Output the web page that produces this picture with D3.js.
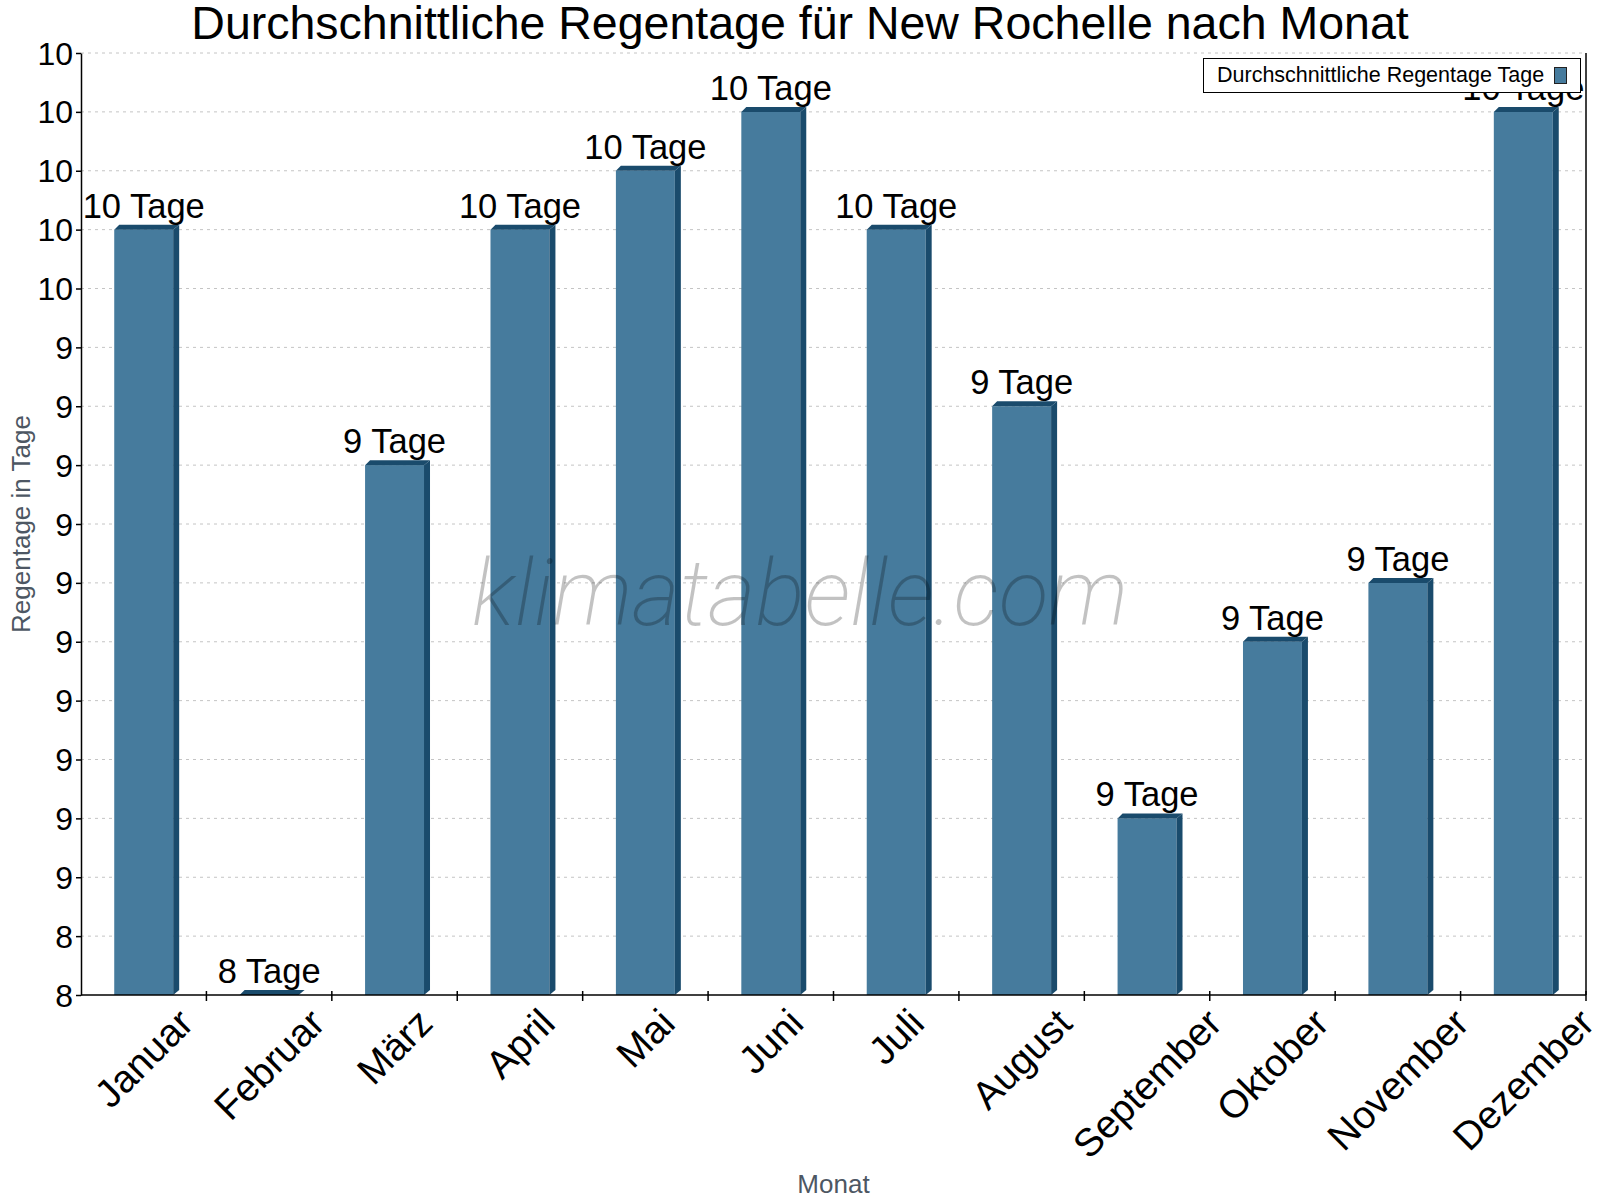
<!DOCTYPE html>
<html lang="de">
<head>
<meta charset="utf-8">
<script src="https://cdn.jsdelivr.net/npm/d3@7"></script>
<style>
  html, body { margin: 0; background: #fff; }
  svg { display: block; font-family: "Liberation Sans", Arial, sans-serif; }
</style>
</head>
<body>
<div id="chart"></div>
<script>
// Werte
var months = ["Januar", "Februar", "März", "April", "Mai", "Juni",
              "Juli", "August", "September", "Oktober", "November", "Dezember"];
var rainDays = [9.65, 8.35, 9.25, 9.65, 9.75, 9.85,
                9.65, 9.35, 8.65, 8.95, 9.05, 9.85];
var yTicks = [8.35, 8.45, 8.55, 8.65, 8.75, 8.85, 8.95, 9.05, 9.15,
              9.25, 9.35, 9.45, 9.55, 9.65, 9.75, 9.85, 9.95];

var title = "Durchschnittliche Regentage für New Rochelle nach Monat",
    seriesName = "Durchschnittliche Regentage Tage",
    yTitle = "Regentage in Tage",
    xTitle = "Monat",
    unit = "Tage",
    watermark = "klimatabelle.com";

var width = 1600,
    height = 1200,
    margin = {top: 53, right: 14, bottom: 205, left: 81};

var front = "#467b9d",
    dark = "#1a4b6c",
    dx = 6, dy = 5;

var fmt = d3.format(".0f");

var svg = d3.select("#chart").append("svg")
    .attr("width", width)
    .attr("height", height);

var x = d3.scaleBand()
    .domain(months)
    .range([margin.left, width - margin.right]);

var y = d3.scaleLinear()
    .domain([yTicks[0], yTicks[yTicks.length - 1]])
    .range([height - margin.bottom, margin.top]);

var bottom = y.range()[0],
    barW = x.bandwidth() * 0.47;

// Gitterlinien
svg.append("g")
    .selectAll("line")
    .data(yTicks.slice(1))
    .join("line")
    .attr("x1", margin.left)
    .attr("x2", width - margin.right)
    .attr("y1", d => y(d))
    .attr("y2", d => y(d))
    .attr("stroke", "#c4c4c4")
    .attr("stroke-dasharray", "3,4");

var data = months.map((m, i) => ({month: m, value: rainDays[i]}));

var bars = svg.append("g")
    .selectAll("g")
    .data(data)
    .join("g");

function left(d) { return x(d.month) + (x.bandwidth() - barW) / 2; }

bars.append("rect")
    .attr("x", d => left(d))
    .attr("y", d => y(d.value))
    .attr("width", barW)
    .attr("height", d => bottom - y(d.value))
    .attr("fill", front);

bars.append("polygon")
    .attr("points", d => {
        var x1 = left(d) + barW, t = y(d.value);
        return [[x1, t], [x1 + dx, t - dy], [x1 + dx, bottom - dy], [x1, bottom]].join(" ");
    })
    .attr("fill", dark);

bars.append("polygon")
    .attr("points", d => {
        var x0 = left(d), x1 = x0 + barW, t = y(d.value);
        return [[x0, t], [x0 + dy, t - dy], [x1 + dx, t - dy], [x1, t]].join(" ");
    })
    .attr("fill", dark);

bars.append("text")
    .attr("x", d => left(d) + barW / 2)
    .attr("y", d => y(d.value) - 12)
    .attr("text-anchor", "middle")
    .attr("font-size", 34.5)
    .attr("fill", "#000")
    .text(d => fmt(d.value) + " " + unit);

// Achsen
var yAxis = svg.append("g")
    .attr("transform", "translate(" + margin.left + ",0)")
    .call(d3.axisLeft(y).tickValues(yTicks).tickFormat(fmt).tickSize(5).tickSizeOuter(0));
yAxis.select(".domain").attr("stroke", "#000").attr("stroke-width", 1.5);
yAxis.selectAll(".tick line").attr("stroke", "#000").attr("stroke-width", 1.5);
yAxis.selectAll(".tick text")
    .attr("x", -8)
    .attr("dy", null)
    .attr("dominant-baseline", "central")
    .attr("font-family", "Liberation Sans, Arial, sans-serif")
    .attr("font-size", 32)
    .attr("fill", "#000");

var xAxis = svg.append("g")
    .attr("transform", "translate(0," + bottom + ")");
xAxis.append("line")
    .attr("x1", margin.left).attr("x2", width - margin.right)
    .attr("stroke", "#000").attr("stroke-width", 1.5);
xAxis.selectAll(".sep")
    .data(months.slice(1).map(m => x(m)).concat([width - margin.right]))
    .join("line")
    .attr("class", "sep")
    .attr("x1", d => d).attr("x2", d => d)
    .attr("y1", -4).attr("y2", 6)
    .attr("stroke", "#000").attr("stroke-width", 1.5);

// gedrehte Monatsnamen: Oberkante fest, Mitte auf der Kategorie
var labSize = 39;
xAxis.selectAll(".lab")
    .data(months)
    .join("text")
    .attr("class", "lab")
    .attr("text-anchor", "middle")
    .attr("dominant-baseline", "central")
    .attr("font-size", labSize)
    .text(d => d)
    .attr("transform", function(d) {
        var half = (this.getComputedTextLength() + labSize * 0.8) * Math.SQRT1_2 / 2;
        return "translate(" + (x(d) + x.bandwidth() / 2) + "," + (10 + half) + ") rotate(-45)";
    });

// rechte Begrenzung
svg.append("line")
    .attr("x1", width - margin.right).attr("x2", width - margin.right)
    .attr("y1", margin.top).attr("y2", bottom)
    .attr("stroke", "#000").attr("stroke-width", 1.5);

// Titel
svg.append("text")
    .attr("x", width / 2)
    .attr("y", 39)
    .attr("text-anchor", "middle")
    .attr("font-size", 46.5)
    .text(title);

svg.append("text")
    .attr("transform", "translate(21," + (margin.top + bottom) / 2 + ") rotate(-90)")
    .attr("text-anchor", "middle")
    .attr("dominant-baseline", "central")
    .attr("font-size", 26)
    .attr("fill", "#4d5763")
    .text(yTitle);

svg.append("text")
    .attr("x", (margin.left + width - margin.right) / 2)
    .attr("y", 1193)
    .attr("text-anchor", "middle")
    .attr("font-size", 26)
    .attr("fill", "#4d5763")
    .text(xTitle);

// Wasserzeichen
svg.append("text")
    .attr("x", width / 2)
    .attr("y", 625)
    .attr("text-anchor", "middle")
    .attr("font-family", "Roboto, sans-serif")
    .attr("font-weight", 200)
    .attr("font-style", "italic")
    .attr("font-size", 92)
    .attr("fill", "rgba(0,0,0,0.24)")
    .text(watermark);

// Legende
var legend = svg.append("g");
legend.append("rect")
    .attr("x", 1203.5).attr("y", 58.5)
    .attr("width", 377).attr("height", 34)
    .attr("fill", "#fff").attr("stroke", "#000");
legend.append("text")
    .attr("x", 1217).attr("y", 82)
    .attr("font-size", 21.5)
    .text(seriesName);
legend.append("rect")
    .attr("x", 1554.5).attr("y", 67.5)
    .attr("width", 12).attr("height", 16)
    .attr("fill", front).attr("stroke", "#222");
</script>
</body>
</html>
